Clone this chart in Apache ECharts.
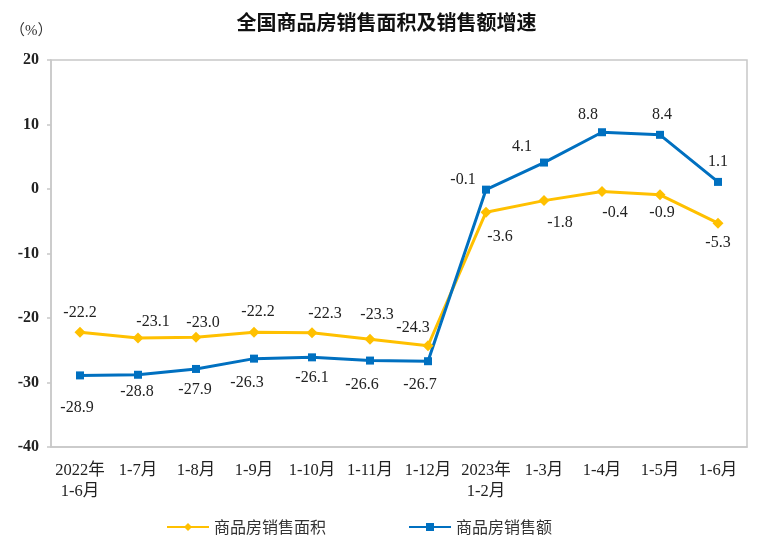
<!DOCTYPE html>
<html><head><meta charset="utf-8">
<script src="https://cdn.jsdelivr.net/npm/echarts@6/dist/echarts.min.js"></script>
<style>html,body{margin:0;padding:0;background:#fff}#c{width:773px;height:554px}</style>
</head><body><div id="c"></div>
<script>
const categories = ['2022年\n1-6月','1-7月','1-8月','1-9月','1-10月','1-11月','1-12月','2023年\n1-2月','1-3月','1-4月','1-5月','1-6月'];
const areaGrowth = [-22.2,-23.1,-23.0,-22.2,-22.3,-23.3,-24.3,-3.6,-1.8,-0.4,-0.9,-5.3];
const amountGrowth = [-28.9,-28.8,-27.9,-26.3,-26.1,-26.6,-26.7,-0.1,4.1,8.8,8.4,1.1];
const yTicks = {min:-40, max:20, interval:10};

// label placement (style only)
const areaLabelOffset = [[0,-19],[15,-16],[7,-15],[4,-20],[13,-19],[7,-24],[-15,-18],[14,25],[16,22],[13,21],[2,18],[0,20]];
const amountLabelOffset = [[-3,32],[-1,17],[-1,21],[-7,24],[0,20],[-8,24],[-8,24],[-23,-10],[-22,-16],[-14,-17],[2,-20],[0,-20]];

const numFont = '"Liberation Serif","Times New Roman",serif';
const cjkFont = '"Liberation Serif","Noto Sans CJK SC",serif';

function mk(values, offs){
  return values.map((v,i)=>({value:v, label:{offset:offs[i]}}));
}
const chart = echarts.init(document.getElementById('c'));
chart.setOption({
  animation:false,
  backgroundColor:'#fff',
  title:{text:'全国商品房销售面积及销售额增速', left:'center', top:7,
    textStyle:{fontFamily:'"Noto Sans CJK SC",sans-serif', fontSize:20, fontWeight:'bold', color:'#111'}},
  graphic:[{type:'text', left:10, top:24, style:{text:'（%）', fontFamily:cjkFont, fontSize:15, fill:'#333'}}],
  legend:{bottom:14, left:161, itemGap:82, itemWidth:42, itemHeight:10,
    textStyle:{fontFamily:'"Noto Sans CJK SC",serif', fontSize:16, color:'#333', padding:[0,0,0,0]},
    data:['商品房销售面积','商品房销售额']},
  grid:{left:51, right:26, top:60, bottom:107, show:true, borderColor:'#c8c8c8', borderWidth:1.5},
  xAxis:{type:'category', data:categories, boundaryGap:true,
    axisLine:{onZero:false, lineStyle:{color:'#c8c8c8', width:1.5}},
    axisTick:{inside:true, length:5, lineStyle:{color:'#c8c8c8', width:1.5}},
    axisLabel:{interval:0, fontFamily:cjkFont, fontSize:16.5, color:'#222', margin:13, lineHeight:21}},
  yAxis:{type:'value', min:yTicks.min, max:yTicks.max, interval:yTicks.interval,
    splitLine:{show:false},
    axisLine:{show:true, lineStyle:{color:'#c8c8c8', width:1.5}},
    axisTick:{show:true, length:4, lineStyle:{color:'#c8c8c8', width:1.5}},
    axisLabel:{fontFamily:numFont, fontSize:16, fontWeight:'bold', color:'#222', margin:12}},
  series:[
    {name:'商品房销售面积', type:'line', data:mk(areaGrowth, areaLabelOffset),
      symbol:'diamond', symbolSize:11, color:'#FFC000',
      lineStyle:{width:3, color:'#FFC000'}, itemStyle:{color:'#FFC000'},
      label:{show:true, position:'inside', fontFamily:numFont, fontSize:16, color:'#222',
        formatter:p=>p.value.toFixed(1)}},
    {name:'商品房销售额', type:'line', data:mk(amountGrowth, amountLabelOffset),
      symbol:'rect', symbolSize:8, color:'#0070C0',
      lineStyle:{width:3, color:'#0070C0'}, itemStyle:{color:'#0070C0'},
      label:{show:true, position:'inside', fontFamily:numFont, fontSize:16, color:'#222',
        formatter:p=>p.value.toFixed(1)}}
  ]
});
</script></body></html>
